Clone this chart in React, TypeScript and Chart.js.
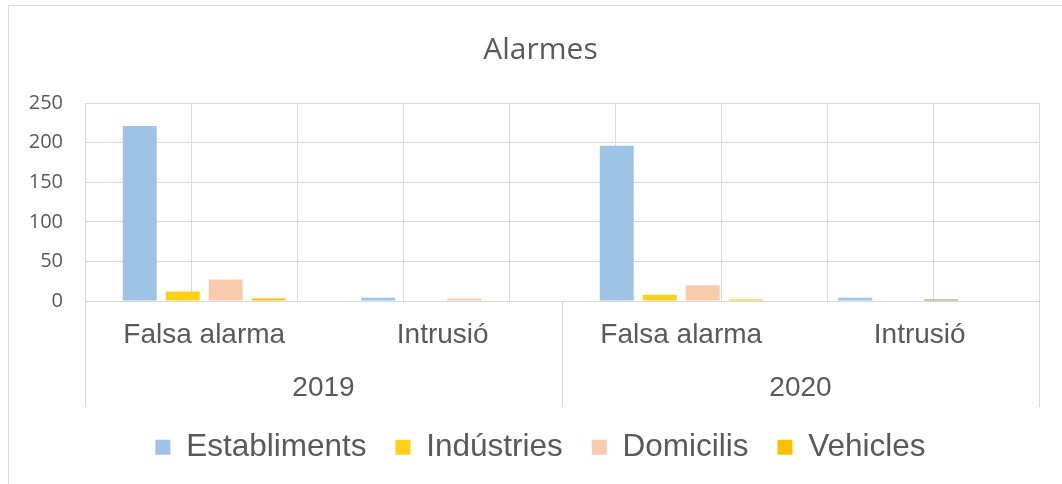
import React, { useEffect, useRef } from 'react';
import { Chart, registerables } from 'chart.js';

Chart.register(...registerables);

// ---- Data ----
const categories = ['Falsa alarma', 'Intrusió', 'Falsa alarma', 'Intrusió'];
const years = ['2019', '2020'];
const seriesNames = ['Establiments', 'Indústries', 'Domicilis', 'Vehicles'];
const establiments = [221, 4, 196, 4];
const industries = [12, 0, 8, 0];
const domicilis = [27, 3, 20, 2];
const vehicles = [3, 0, 2, 0];
const yMin = 0;
const yMax = 250;
const yStep = 50;

// ---- Styles ----
const GRID = '#d9d9d9';
const TEXT = '#595959';
const C_EST = '#9DC3E6';
const C_IND = '#FCD116';
const C_DOM = '#F8CBAD';
const C_DOM_ALT = '#70AD47';
const C_VEH = '#FFC000';

export default function App() {
  const ref = useRef<HTMLCanvasElement>(null);

  useEffect(() => {
    const canvas = ref.current;
    if (!canvas) return;

    const chart = new Chart(canvas, {
      type: 'bar',
      data: {
        labels: categories,
        datasets: [
          { label: seriesNames[0], data: establiments, backgroundColor: C_EST, xAxisID: 'x', yAxisID: 'y' },
          { label: seriesNames[1], data: industries, backgroundColor: C_IND, xAxisID: 'x', yAxisID: 'y' },
          {
            label: seriesNames[2],
            data: domicilis,
            backgroundColor: (ctx: any) => (ctx.dataIndex === 3 ? C_DOM_ALT : C_DOM),
            xAxisID: 'x',
            yAxisID: 'y',
          },
          { label: seriesNames[3], data: vehicles, backgroundColor: C_VEH, xAxisID: 'x', yAxisID: 'y' },
        ],
      },
      options: {
        responsive: false,
        animation: false,
        layout: { padding: { left: 18, right: 8, top: 0, bottom: 11 } },
        datasets: { bar: { categoryPercentage: 0.721, barPercentage: 0.79, borderWidth: 0 } },
        plugins: {
          title: {
            display: true,
            text: 'Alarmes',
            color: TEXT,
            font: { family: 'Open Sans', size: 30, weight: 'normal' },
            padding: { top: 26, bottom: 35 },
          },
          legend: {
            position: 'bottom',
            labels: {
              boxWidth: 15,
              boxHeight: 15,
              padding: 29,
              color: TEXT,
              font: { family: 'Liberation Sans', size: 31.5 },
            },
          },
          tooltip: { enabled: false },
        },
        scales: {
          y: {
            min: yMin,
            max: yMax,
            ticks: { stepSize: yStep, padding: 22, color: TEXT, font: { family: 'Open Sans', size: 20 } },
            grid: { color: GRID, drawTicks: false },
            border: { display: false },
            afterFit: (s: any) => {
              s.width = 58;
            },
          },
          // empty right margin
          yr: {
            type: 'linear',
            axis: 'y',
            position: 'right',
            min: yMin,
            max: yMax,
            ticks: { display: false },
            grid: { display: false, drawOnChartArea: false, drawTicks: false },
            border: { display: false },
            afterFit: (s: any) => {
              s.width = 15;
            },
          },
          // separators between the years (drawn below the axis line)
          xs: {
            type: 'category',
            axis: 'x',
            labels: years,
            position: 'bottom',
            weight: 0,
            offset: true,
            grid: { offset: true, drawOnChartArea: false, drawTicks: true, tickLength: 106, color: GRID },
            border: { display: false },
            ticks: { display: false },
            afterFit: (s: any) => {
              s.height = 0;
            },
          },
          x: {
            type: 'category',
            position: 'bottom',
            weight: 1,
            offset: true,
            grid: { offset: true, drawOnChartArea: false, drawTicks: false, color: 'rgba(0,0,0,0)' },
            border: { display: true, color: GRID },
            ticks: {
              padding: 17.2,
              color: TEXT,
              font: { family: 'Liberation Sans', size: 28 },
              maxRotation: 0,
              autoSkip: false,
            },
            afterFit: (s: any) => {
              s.height = 47;
            },
          },
          x2: {
            type: 'category',
            axis: 'x',
            labels: years,
            position: 'bottom',
            weight: 2,
            offset: true,
            grid: { offset: true, drawOnChartArea: false, drawTicks: false, color: 'rgba(0,0,0,0)' },
            border: { display: false },
            ticks: {
              padding: 23.2,
              color: TEXT,
              font: { family: 'Liberation Sans', size: 28 },
              maxRotation: 0,
              autoSkip: false,
            },
            afterFit: (s: any) => {
              s.height = 54.5;
            },
          },
          xg: {
            type: 'linear',
            axis: 'x',
            position: 'top',
            min: 0,
            max: categories.length * 2,
            ticks: { display: false, stepSize: 1 },
            grid: { color: GRID, drawTicks: false },
            border: { display: false },
          },
        },
      } as any,
    });
    return () => chart.destroy();
  }, []);

  return (
    <div
      style={{
        position: 'absolute',
        left: 8,
        top: 5,
        width: 1054,
        height: 479,
        boxSizing: 'border-box',
        borderLeft: '1px solid #d9d9d9',
        borderTop: '1px solid #d9d9d9',
        background: '#fff',
      }}
    >
      <canvas ref={ref} width={1053} height={478} style={{ display: 'block' }} />
    </div>
  );
}
